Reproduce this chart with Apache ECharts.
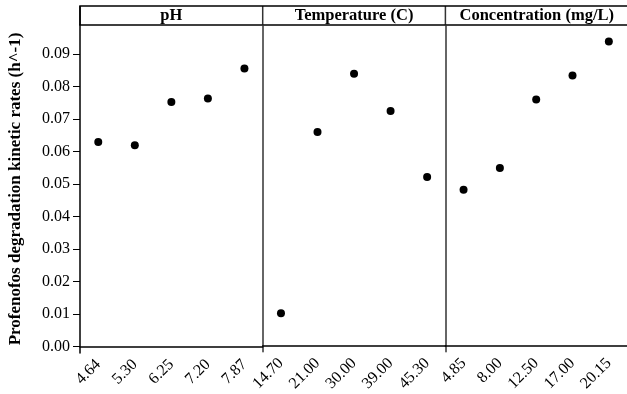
<!DOCTYPE html>
<html>
<head>
<meta charset="utf-8">
<script src="https://cdn.jsdelivr.net/npm/echarts@6/dist/echarts.min.js"></script>
<style>
html, body { margin: 0; padding: 0; background: #fff; }
#chart { width: 627px; height: 394px; }
</style>
</head>
<body>
<div id="chart"></div>
<script>
// data
var panelNames = ['pH', 'Temperature (C)', 'Concentration (mg/L)'];
var phCats = ['4.64', '5.30', '6.25', '7.20', '7.87'];
var phRates = [0.0630, 0.0620, 0.0753, 0.0764, 0.0856];
var tempCats = ['14.70', '21.00', '30.00', '39.00', '45.30'];
var tempRates = [0.0099, 0.0659, 0.0839, 0.0724, 0.0520];
var concCats = ['4.85', '8.00', '12.50', '17.00', '20.15'];
var concRates = [0.0481, 0.0548, 0.0760, 0.0834, 0.0939];
var yTicks = [0, 0.01, 0.02, 0.03, 0.04, 0.05, 0.06, 0.07, 0.08, 0.09];

var cats = [phCats, tempCats, concCats];
var rates = [phRates, tempRates, concRates];

function initEcharts() {
    var myChart = echarts.init(document.getElementById('chart'));

    var left = 80, panelW = 182.7, top = 25, bottom = 41, stripTop = 6;
    var font = 'Liberation Serif';

    var grids = [], xAxes = [], yAxes = [], series = [], graphics = [], titles = [];
    for (var i = 0; i < 3; i++) {
        var gx = left + i * panelW;
        grids.push({ left: gx, width: panelW, top: top, bottom: bottom });
        xAxes.push({
            type: 'category',
            gridIndex: i,
            data: cats[i],
            boundaryGap: true,
            axisLine: { lineStyle: { color: '#000', width: 1.5 } },
            axisTick: { alignWithLabel: true, length: 5, lineStyle: { color: '#000' } },
            axisLabel: { rotate: 45, margin: 9, fontSize: 16, color: '#000', fontFamily: font, interval: 0 }
        });
        yAxes.push({
            type: 'value',
            gridIndex: i,
            min: -0.002,
            max: 0.099,
            splitLine: { show: false },
            axisLine: { show: true, lineStyle: { color: i == 0 ? '#000' : '#333', width: 1.5 } },
            axisTick: { show: i == 0, length: 7, customValues: yTicks, lineStyle: { color: '#000' } },
            axisLabel: {
                show: i == 0,
                margin: 10,
                fontSize: 16,
                color: '#000',
                fontFamily: font,
                customValues: yTicks,
                formatter: function(v) { return v.toFixed(2); }
            },
            name: i == 0 ? 'Profenofos degradation kinetic rates (h^-1)' : '',
            nameLocation: 'middle',
            nameGap: 56,
            nameTextStyle: { fontSize: 17, fontWeight: 'bold', color: '#000', fontFamily: font }
        });
        series.push({
            type: 'scatter',
            xAxisIndex: i,
            yAxisIndex: i,
            data: rates[i],
            symbolSize: 8,
            itemStyle: { color: '#000', opacity: 1 }
        });
        titles.push({
            text: panelNames[i],
            left: gx + panelW / 2,
            top: stripTop,
            textAlign: 'center',
            padding: 0,
            textStyle: { fontSize: 16.5, fontWeight: 'bold', color: '#000', fontFamily: font, lineHeight: 20 }
        });
        // strip divider
        graphics.push({
            type: 'line',
            shape: { x1: gx, y1: stripTop, x2: gx, y2: top },
            style: { stroke: i == 0 ? '#000' : '#333', lineWidth: 1.5 }
        });
    }
    // header strip
    graphics.push({
        type: 'rect',
        shape: { x: left, y: stripTop, width: panelW * 3, height: top - stripTop },
        style: { fill: 'none', stroke: '#000', lineWidth: 1.5 }
    });

    var option = {
        animation: false,
        backgroundColor: '#fff',
        title: titles,
        grid: grids,
        xAxis: xAxes,
        yAxis: yAxes,
        series: series,
        graphic: graphics
    };

    myChart.setOption(option);
}

initEcharts();
</script>
</body>
</html>
